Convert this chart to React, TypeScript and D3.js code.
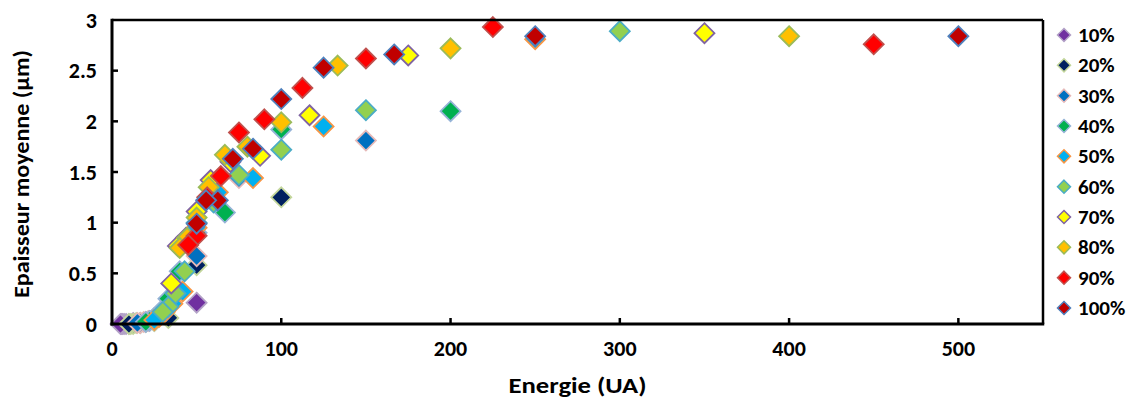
import React from "react";
import * as d3 from "d3";

const seriesNames = ["10%", "20%", "30%", "40%", "50%", "60%", "70%", "80%", "90%", "100%"];

const x10 = [50, 25, 16.7, 12.5, 10, 8.33, 7.14, 6.25, 5.56, 5];
const y10 = [0.21, 0.03, 0.01, 0.01, 0, 0, 0, 0, 0, 0];
const x20 = [100, 50, 33.3, 25, 20, 16.7, 14.3, 12.5, 11.1, 10];
const y20 = [1.25, 0.58, 0.06, 0.03, 0.02, 0.01, 0.01, 0, 0, 0];
const x30 = [150, 75, 50, 37.5, 30, 25, 21.4, 18.75, 16.7, 15];
const y30 = [1.81, 1.44, 0.67, 0.3, 0.1, 0.05, 0.03, 0.02, 0.01, 0.01];
const x40 = [200, 100, 66.7, 50, 40, 33.3, 28.6, 25, 22.2, 20];
const y40 = [2.1, 1.92, 1.1, 0.9, 0.52, 0.25, 0.12, 0.06, 0.03, 0.02];
const x50 = [250, 125, 83.3, 62.5, 50, 41.7, 35.7, 31.25, 27.8, 25];
const y50 = [2.81, 1.95, 1.44, 1.3, 0.95, 0.32, 0.2, 0.12, 0.07, 0.04];
const x60 = [300, 150, 100, 75, 60, 50, 42.9, 37.5, 33.3, 30];
const y60 = [2.89, 2.11, 1.72, 1.47, 1.2, 1.0, 0.52, 0.3, 0.17, 0.12];
const x70 = [350, 175, 116.7, 87.5, 70, 58.3, 50, 43.75, 38.9, 35];
const y70 = [2.87, 2.65, 2.06, 1.66, 1.6, 1.42, 1.11, 0.85, 0.77, 0.4];
const x80 = [400, 200, 133.3, 100, 80, 66.7, 57.1, 50, 44.4, 40];
const y80 = [2.84, 2.72, 2.55, 1.99, 1.75, 1.67, 1.35, 1.05, 0.85, 0.75];
const x90 = [450, 225, 150, 112.5, 90, 75, 64.3, 56.25, 50, 45];
const y90 = [2.76, 2.93, 2.62, 2.33, 2.02, 1.89, 1.46, 1.25, 0.87, 0.78];
const x100 = [500, 250, 166.7, 125, 100, 83.3, 71.4, 62.5, 55.6, 50];
const y100 = [2.84, 2.84, 2.66, 2.53, 2.22, 1.73, 1.63, 1.22, 1.22, 0.99];

const xs = [x10, x20, x30, x40, x50, x60, x70, x80, x90, x100];
const ys = [y10, y20, y30, y40, y50, y60, y70, y80, y90, y100];

const fills = ["#7030A0", "#002060", "#0070C0", "#00B050", "#00B0F0", "#92D050", "#FFFF00", "#FFC000", "#FF0000", "#C00000"];
const strokes = ["#B3A2C7", "#C3D69B", "#E6B9B8", "#95B3D7", "#F79646", "#4BACC6", "#8064A2", "#9BBB59", "#C0504D", "#4F81BD"];

const xTicks = [0, 100, 200, 300, 400, 500];
const yTicks = [0, 0.5, 1, 1.5, 2, 2.5, 3];

const W = 1131, H = 405;
const M = { left: 112, right: 1043, top: 20, bottom: 324 };

const diamond = (r: number) => `M0,${-r}L${r},0L0,${r}L${-r},0Z`;

export default function App() {
  const x = d3.scaleLinear().domain([0, 550]).range([M.left, M.right]);
  const y = d3.scaleLinear().domain([0, 3]).range([M.bottom, M.top]);
  const font = "Carlito, Calibri, 'Open Sans', sans-serif";
  const legY = d3.scaleLinear().domain([0, 9]).range([35, 308]);

  return (
    <svg width={W} height={H} style={{ position: "absolute", left: 0, top: 0 }} fontFamily={font}>
      <rect x={0} y={0} width={W} height={H} fill="#fff" />
      {xs.map((sx, si) => (
        <g key={si}>
          {sx.map((v, i) => (
            <path
              key={i}
              d={diamond(10)}
              transform={`translate(${x(v)},${y(ys[si][i])})`}
              fill={fills[si]}
              stroke={strokes[si]}
              strokeWidth={1.8}
            />
          ))}
        </g>
      ))}
      <line x1={M.left} x2={M.right} y1={M.top} y2={M.top} stroke="#000" strokeWidth={2.5} />
      <line x1={M.right} x2={M.right} y1={M.top} y2={M.bottom} stroke="#000" strokeWidth={2.5} />
      <line x1={M.left} x2={M.left} y1={M.top - 1.25} y2={M.bottom + 1.5} stroke="#000" strokeWidth={3} />
      <line x1={M.left - 1.5} x2={M.right + 1.25} y1={M.bottom} y2={M.bottom} stroke="#000" strokeWidth={3} />
      {xTicks.filter((t) => t > 0).map((t) => (
        <line key={t} x1={x(t)} x2={x(t)} y1={M.bottom} y2={M.bottom - 6} stroke="#000" strokeWidth={2.5} />
      ))}
      {yTicks.filter((t) => t > 0 && t < 3).map((t) => (
        <line key={t} x1={M.left} x2={M.left + 6} y1={y(t)} y2={y(t)} stroke="#000" strokeWidth={2.5} />
      ))}
      {xTicks.map((t) => (
        <text key={t} x={x(t)} y={356} textAnchor="middle" fontSize={22} fontWeight="bold" fill="#000">
          {t}
        </text>
      ))}
      {yTicks.map((t) => (
        <text key={t} x={97} y={y(t) + 7.5} textAnchor="end" fontSize={22} fontWeight="bold" fill="#000">
          {t}
        </text>
      ))}
      <text
        x={(M.left + M.right) / 2}
        y={393}
        textAnchor="middle"
        fontSize={22}
        fontWeight="bold"
        fill="#000"
        textLength={138}
        lengthAdjust="spacingAndGlyphs"
      >
        Energie (UA)
      </text>
      <text
        transform={`translate(29,${(M.top + M.bottom) / 2 + 2}) rotate(-90)`}
        textAnchor="middle"
        fontSize={22}
        fontWeight="bold"
        fill="#000"
        textLength={248}
        lengthAdjust="spacingAndGlyphs"
      >
        Epaisseur moyenne (µm)
      </text>
      {seriesNames.map((n, i) => (
        <g key={n} transform={`translate(0,${legY(i)})`}>
          <path d={diamond(6.5)} transform="translate(1064,0)" fill={fills[i]} stroke={strokes[i]} strokeWidth={1.5} />
          <text x={1078} y={7} fontSize={21} fontWeight="bold" fill="#000">
            {n}
          </text>
        </g>
      ))}
    </svg>
  );
}
